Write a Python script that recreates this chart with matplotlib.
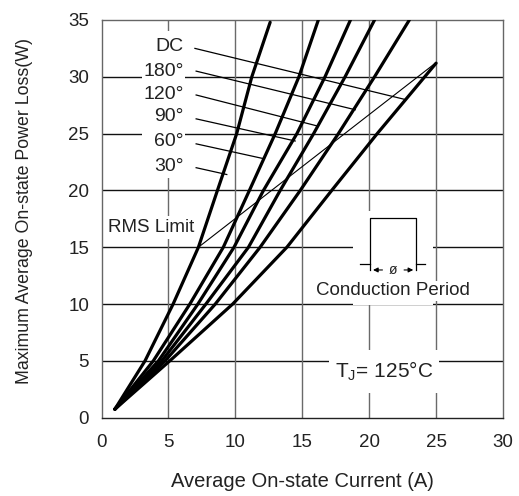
import matplotlib
matplotlib.use("Agg")
import matplotlib.pyplot as plt
from matplotlib.patches import Rectangle

plt.rcParams['font.family'] = ['Liberation Sans', 'DejaVu Sans']
plt.rcParams['mathtext.fontset'] = 'custom'
plt.rcParams['mathtext.rm'] = 'Liberation Sans'

# ---- data ----
labels = ["30°", "60°", "90°", "120°", "180°", "DC"]
I_30 = [1.0, 3.25, 5.35, 7.24, 8.66, 10.1, 11.23, 12.6]
P_30 = [0.75, 5, 10, 15, 20, 25, 30, 34.8]
I_60 = [1.0, 3.87, 6.6, 9.1, 11.05, 12.98, 14.75, 16.2]
P_60 = [0.75, 5, 10, 15, 20, 25, 30, 35]
I_90 = [1.0, 4.25, 7.2, 9.9, 12.1, 14.6, 16.7, 18.6]
P_90 = [0.75, 5, 10, 15, 20, 25, 30, 35]
I_120 = [1.0, 4.5, 7.8, 10.98, 13.35, 15.85, 18.2, 20.4]
P_120 = [0.75, 5, 10, 15, 20, 25, 30, 35]
I_180 = [1.0, 4.75, 8.5, 11.85, 14.85, 17.7, 20.4, 23.0]
P_180 = [0.75, 5, 10, 15, 20, 25, 30, 35]
I_DC = [1.0, 5.1, 9.8, 13.85, 17.2, 20.6, 25.0]
P_DC = [0.75, 5, 10, 15, 20, 25, 31.2]

rms_I = [7.24, 25.0]
rms_P = [15.0, 31.25]

# label anchor (text) y positions and leader line endpoints on curves
label_y = [22.1, 24.3, 26.5, 28.4, 30.5, 32.7]
leader_start = [(7.07, 22.0), (7.07, 24.1), (7.07, 26.3), (7.07, 28.4), (7.07, 30.5), (6.98, 32.5)]
leader_end = [(9.36, 21.4), (12.1, 22.8), (14.47, 24.35), (16.2, 25.65), (18.96, 27.1), (22.7, 28.0)]

xticks = [0, 5, 10, 15, 20, 25, 30]
yticks = [0, 5, 10, 15, 20, 25, 30, 35]

fig = plt.figure(figsize=(5.19, 4.96), dpi=100)
ax = fig.add_axes([0.1956, 0.1579, 0.7736, 0.8018])
ax.set_xlim(0, 30)
ax.set_ylim(0, 35)

# grid
for y in yticks[1:-1]:
    ax.axhline(y, color='#111111', lw=1.0, zorder=1)
for x in xticks[1:-1]:
    ax.axvline(x, color='#6a6a6a', lw=1.0, zorder=1)

for s in ['left', 'top', 'right']:
    ax.spines[s].set_color('#666666')
ax.spines['bottom'].set_color('#222222')
for s in ax.spines.values():
    s.set_linewidth(1.0)

ax.set_xticks(xticks)
ax.set_yticks(yticks)
ax.tick_params(length=0, labelsize=13.5, colors='#222222')
ax.tick_params(axis='x', pad=12)
ax.tick_params(axis='y', pad=9)

ax.set_xlabel("Average On-state Current (A)", fontsize=14.5, color='#222222', labelpad=15)
ax.set_ylabel("Maximum Average On-state Power Loss(W)", fontsize=12.8, color='#222222')
ax.yaxis.set_label_coords(-0.17, 0.52)

# white knock-out areas over grid
ax.add_patch(Rectangle((3.0, 21.1), 3.25, 12.9, facecolor='white', edgecolor='none', zorder=2))
ax.add_patch(Rectangle((18.8, 9.95), 5.95, 8.2, facecolor='white', edgecolor='none', zorder=2))
ax.add_patch(Rectangle((17.0, 2.17), 8.2, 3.8, facecolor='white', edgecolor='none', zorder=2))

# curves
for I, P in [(I_30, P_30), (I_60, P_60), (I_90, P_90), (I_120, P_120), (I_180, P_180), (I_DC, P_DC)]:
    ax.plot(I, P, color='black', lw=2.3, solid_capstyle='round', solid_joinstyle='round', zorder=4)

# RMS limit line
ax.plot(rms_I, rms_P, color='black', lw=0.8, zorder=3)

# labels and leaders
for lab, ly, (x0, y0), (x1, y1) in zip(labels, label_y, leader_start, leader_end):
    ax.plot([x0, x1], [y0, y1], color='black', lw=0.9, zorder=3)
    ax.text(6.15, ly, lab, ha='right', va='center', fontsize=14, color='#222222', zorder=5)

ax.text(0.45, 16.75, "RMS Limit", ha='left', va='center', fontsize=13.5, color='#222222', zorder=5,
        bbox=dict(facecolor='white', edgecolor='none', pad=2))

# conduction period inset
px0, px1, ptop, pbase, parrow = 20.08, 23.5, 17.57, 13.54, 13.0
ax.plot([px0, px0, px1, px1], [parrow, ptop, ptop, parrow], color='black', lw=0.9, zorder=3)
ax.plot([19.28, px0], [pbase, pbase], color='black', lw=0.9, zorder=3)
ax.plot([px1, 24.2], [pbase, pbase], color='black', lw=0.9, zorder=3)
ax.annotate("", xy=(px0, parrow), xytext=(21.2, parrow),
            arrowprops=dict(arrowstyle='-|>', color='black', lw=0.8, mutation_scale=7), zorder=3)
ax.annotate("", xy=(px1, parrow), xytext=(22.4, parrow),
            arrowprops=dict(arrowstyle='-|>', color='black', lw=0.8, mutation_scale=7), zorder=3)
ax.text(21.79, parrow, "ø", ha='center', va='center', fontsize=10, color='#222222', zorder=5)
ax.text(21.75, 11.15, "Conduction Period", ha='center', va='center', fontsize=13.5, color='#222222',
        zorder=5, bbox=dict(facecolor='white', edgecolor='none', pad=1))

ax.text(21.1, 4.05, r"T$_{\mathregular{J}}$= 125°C", ha='center', va='center', fontsize=15,
        color='#222222', zorder=5)

fig.savefig("out.png", dpi=100)
